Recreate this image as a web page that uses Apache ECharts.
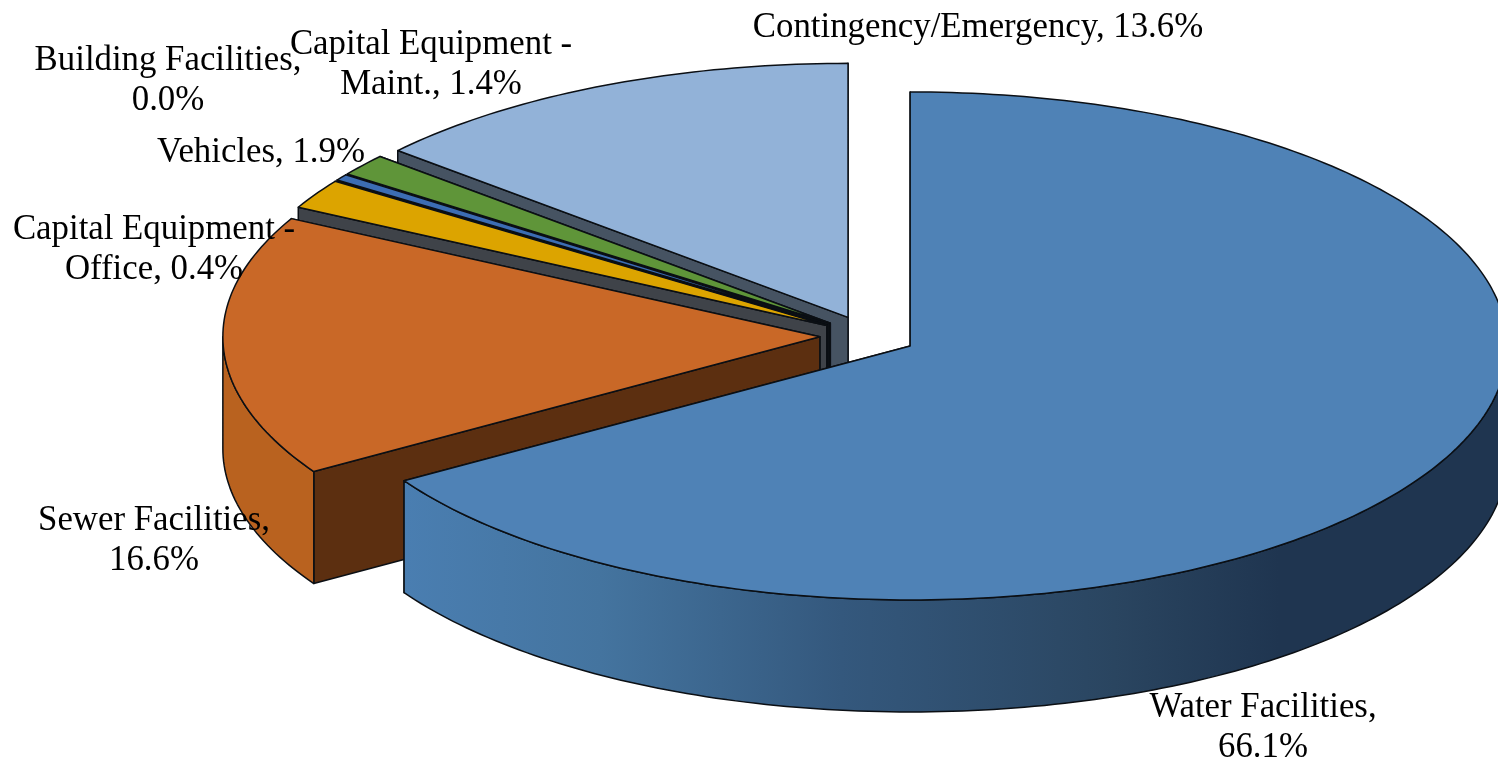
<!DOCTYPE html>
<html>
<head>
<meta charset="utf-8">
<style>html,body{margin:0;padding:0;background:#fff}#chart{width:1498px;height:762px}</style>
<script src="https://cdn.jsdelivr.net/npm/echarts@6/dist/echarts.min.js"></script>
</head>
<body>
<div id="chart"></div>
<script>
// Data, clockwise from twelve o'clock
const categories = ['Water Facilities', 'Sewer Facilities', 'Vehicles', 'Capital Equipment -\nOffice', 'Building Facilities', 'Capital Equipment -\nMaint.', 'Contingency/Emergency'];
const shares = [66.1, 16.6, 1.9, 0.4, 0.0, 1.4, 13.6];
const labelSeparators = [',\n', ',\n', ', ', ', ', ',\n', ', ', ', '];

// Styles
const topColors = ['#4f82b6', '#c96827', '#dca400', '#3c6db3', '#4f82b6', '#5f9539', '#92b2d8'];
const edgeColors = ['#2f5578', '#5c2f10', '#3f4349', '#0c0e12', '#0c0e12', '#0c0e12', '#465362'];
const rimColors = ['#3a6a96', '#b9621f', '#8a6a10', '#28497a', '#28497a', '#3a5c22', '#5c7690'];

// Layout
const cx = 868, cy = 336, rx = 597, ry = 254, depth = 112, explode = 0.0807;
const labelAnchors = [[1263, 708], [154, 521], [261, 153], [154, 230], [168, 61], [431, 45], [978, 28]];
const labelFont = '34.8px "Liberation Serif", "Times New Roman", serif';
const waterRim = new echarts.graphic.LinearGradient(403, 0, 1498, 0, [
  { offset: 0, color: '#4a7eb1' },
  { offset: 0.18, color: '#44749f' },
  { offset: 0.4, color: '#34587d' },
  { offset: 0.65, color: '#2a4560' },
  { offset: 0.8, color: '#1f3550' },
  { offset: 1, color: '#1f3550' }
], true);
const rimFill = i => (i === 0 ? waterRim : rimColors[i]);

function onEllipse(c, deg) {
  const a = deg * Math.PI / 180;
  return [c[0] + rx * Math.sin(a), c[1] - ry * Math.cos(a)];
}
function arc(c, a0, a1) {
  const pts = [], n = Math.max(2, Math.ceil(Math.abs(a1 - a0)));
  for (let k = 0; k <= n; k++) pts.push(onEllipse(c, a0 + (a1 - a0) * k / n));
  return pts;
}
const down = p => [p[0], p[1] + depth];
const line = { stroke: '#0b0f14', lineWidth: 1.5, lineJoin: 'round' };

function renderSlice(params, api) {
  const i = params.dataIndex, value = api.value(0);
  let sum = 0;
  for (let k = 0; k < i; k++) sum += shares[k];
  const a0 = sum * 3.6, a1 = (sum + value) * 3.6, mid = (a0 + a1) / 2;
  const apex = onEllipse([cx, cy], mid).map((v, d) => [cx, cy][d] + (v - [cx, cy][d]) * explode);
  const z = (categories.length - i) * 10;
  const children = [];
  if (value > 0) {
    const p0 = onEllipse(apex, a0), p1 = onEllipse(apex, a1);
    // far edge first, so the near edge hides it
    [p1, p0].forEach((p, k) => children.push({
      type: 'polygon', z2: z + k,
      shape: { points: [apex, p, down(p), down(apex)] },
      style: Object.assign({ fill: edgeColors[i] }, line)
    }));
    const r0 = Math.max(a0, 90), r1 = Math.min(a1, 270);
    if (r1 > r0) {
      const top = arc(apex, r0, r1);
      children.push({
        type: 'polygon', z2: z + 2,
        shape: { points: top.concat(top.slice().reverse().map(down)) },
        style: Object.assign({ fill: rimFill(i) }, line)
      });
    }
    children.push({
      type: 'polygon', z2: z + 3,
      shape: { points: [apex].concat(arc(apex, a0, a1)) },
      style: Object.assign({ fill: topColors[i] }, line)
    });
  }
  const anchor = labelAnchors[i];
  children.push({
    type: 'text', z2: 1000, silent: true,
    style: {
      text: categories[i] + labelSeparators[i] + value.toFixed(1) + '%',
      x: anchor[0], y: anchor[1] - 20, align: 'center', verticalAlign: 'top',
      font: labelFont, lineHeight: 40, fill: '#000'
    }
  });
  return { type: 'group', children };
}

const chart = echarts.init(document.getElementById('chart'));
chart.setOption({
  animation: false,
  backgroundColor: '#fff',
  series: [{
    type: 'custom',
    coordinateSystem: 'none',
    renderItem: renderSlice,
    clip: false,
    data: categories.map((name, i) => ({ name, value: [shares[i]] }))
  }]
});
</script>
</body>
</html>
